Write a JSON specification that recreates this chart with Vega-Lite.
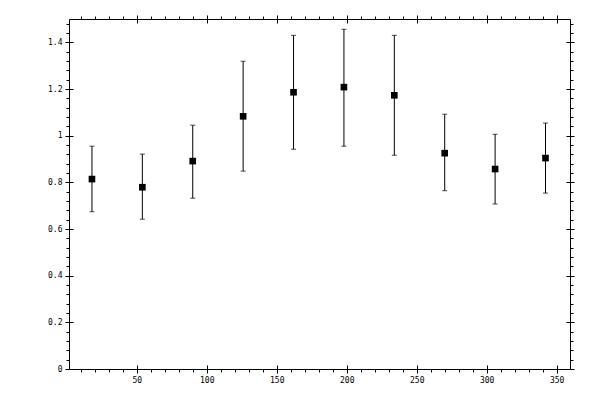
{
  "$schema": "https://vega.github.io/schema/vega-lite/v6.json",
  "autosize": {"type": "none"},
  "width": 501,
  "height": 350,
  "padding": {"left": 69, "top": 19, "right": 30, "bottom": 31},
  "background": "white",
  "config": {
    "view": {"stroke": null},
    "axis": {
      "labelFont": "DejaVu Sans Mono",
      "labelFontSize": 8,
      "labelColor": "black",
      "domainColor": "black",
      "tickColor": "black",
      "tickWidth": 1,
      "domainWidth": 1,
      "grid": false,
      "title": null,
      "labelPadding": 3
    }
  },
  "data": {
    "values": [
      {"x": 18, "y": 0.814, "lo": 0.674, "hi": 0.955},
      {"x": 54, "y": 0.779, "lo": 0.642, "hi": 0.921},
      {"x": 90, "y": 0.891, "lo": 0.732, "hi": 1.045},
      {"x": 126, "y": 1.083, "lo": 0.848, "hi": 1.319},
      {"x": 162, "y": 1.186, "lo": 0.942, "hi": 1.43},
      {"x": 198, "y": 1.208, "lo": 0.955, "hi": 1.456},
      {"x": 234, "y": 1.173, "lo": 0.916, "hi": 1.43},
      {"x": 270, "y": 0.925, "lo": 0.764, "hi": 1.092},
      {"x": 306, "y": 0.857, "lo": 0.707, "hi": 1.006},
      {"x": 342, "y": 0.904, "lo": 0.754, "hi": 1.054}
    ]
  },
  "resolve": {"axis": {"x": "independent", "y": "independent"}},
  "layer": [
    {
      "mark": {"type": "rule", "color": "black", "strokeWidth": 1},
      "encoding": {
        "x": {"field": "x", "type": "quantitative", "scale": {"domain": [1.6, 359.5], "nice": false, "zero": false},
              "axis": {"orient": "bottom", "values": [50, 100, 150, 200, 250, 300, 350], "tickSize": 4, "domain": true, "labels": true}},
        "y": {"field": "lo", "type": "quantitative", "scale": {"domain": [0, 1.5], "nice": false},
              "axis": {"orient": "left", "values": [0, 0.2, 0.4, 0.6, 0.8, 1, 1.2, 1.4], "tickSize": 4, "format": "~g", "domain": true, "labels": true}},
        "y2": {"field": "hi"}
      }
    },
    {
      "mark": {"type": "tick", "orient": "horizontal", "color": "black", "size": 5, "thickness": 1},
      "encoding": {
        "x": {"field": "x", "type": "quantitative",
              "axis": {"orient": "bottom", "values": [50, 100, 150, 200, 250, 300, 350], "tickSize": -4, "domain": false, "labels": false}},
        "y": {"field": "lo", "type": "quantitative",
              "axis": {"orient": "left", "values": [0, 0.2, 0.4, 0.6, 0.8, 1, 1.2, 1.4], "tickSize": -4, "domain": false, "labels": false}}
      }
    },
    {
      "mark": {"type": "tick", "orient": "horizontal", "color": "black", "size": 5, "thickness": 1},
      "encoding": {
        "x": {"field": "x", "type": "quantitative",
              "axis": {"orient": "bottom", "values": [10, 20, 30, 40, 60, 70, 80, 90, 110, 120, 130, 140, 160, 170, 180, 190, 210, 220, 230, 240, 260, 270, 280, 290, 310, 320, 330, 340], "tickSize": 3, "domain": false, "labels": false}},
        "y": {"field": "hi", "type": "quantitative",
              "axis": {"orient": "left", "values": [0.04, 0.08, 0.12, 0.16, 0.24, 0.28, 0.32, 0.36, 0.44, 0.48, 0.52, 0.56, 0.64, 0.68, 0.72, 0.76, 0.84, 0.88, 0.92, 0.96, 1.04, 1.08, 1.12, 1.16, 1.24, 1.28, 1.32, 1.36, 1.44, 1.48], "tickSize": 3, "domain": false, "labels": false}}
      }
    },
    {
      "mark": {"type": "square", "color": "black", "filled": true, "size": 44, "opacity": 1},
      "encoding": {
        "x": {"field": "x", "type": "quantitative",
              "axis": {"orient": "top", "values": [50, 100, 150, 200, 250, 300, 350], "tickSize": 4, "domain": true, "labels": false}},
        "y": {"field": "y", "type": "quantitative",
              "axis": {"orient": "right", "values": [0, 0.2, 0.4, 0.6, 0.8, 1, 1.2, 1.4], "tickSize": 4, "domain": true, "labels": false}}
      }
    },
    {
      "mark": {"type": "point", "opacity": 0},
      "encoding": {
        "x": {"field": "x", "type": "quantitative",
              "axis": {"orient": "top", "values": [50, 100, 150, 200, 250, 300, 350], "tickSize": -4, "domain": false, "labels": false}},
        "y": {"field": "y", "type": "quantitative",
              "axis": {"orient": "right", "values": [0, 0.2, 0.4, 0.6, 0.8, 1, 1.2, 1.4], "tickSize": -4, "domain": false, "labels": false}}
      }
    },
    {
      "mark": {"type": "point", "opacity": 0},
      "encoding": {
        "x": {"field": "x", "type": "quantitative",
              "axis": {"orient": "top", "values": [10, 20, 30, 40, 60, 70, 80, 90, 110, 120, 130, 140, 160, 170, 180, 190, 210, 220, 230, 240, 260, 270, 280, 290, 310, 320, 330, 340], "tickSize": 3, "domain": false, "labels": false}},
        "y": {"field": "y", "type": "quantitative",
              "axis": {"orient": "right", "values": [0.04, 0.08, 0.12, 0.16, 0.24, 0.28, 0.32, 0.36, 0.44, 0.48, 0.52, 0.56, 0.64, 0.68, 0.72, 0.76, 0.84, 0.88, 0.92, 0.96, 1.04, 1.08, 1.12, 1.16, 1.24, 1.28, 1.32, 1.36, 1.44, 1.48], "tickSize": 3, "domain": false, "labels": false}}
      }
    }
  ]
}
